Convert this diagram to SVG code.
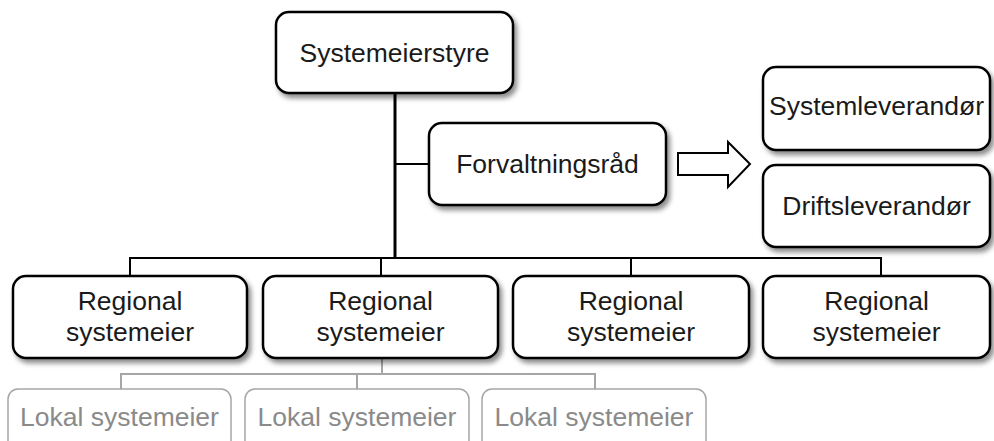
<svg xmlns="http://www.w3.org/2000/svg" width="994" height="441" viewBox="0 0 994 441">
<defs>
<filter id="sh" x="-10%" y="-10%" width="130%" height="140%">
<feDropShadow dx="3" dy="4" stdDeviation="2.5" flood-color="#000" flood-opacity="0.45"/>
</filter>
<style>
.box{fill:#fff;stroke:#000;stroke-width:2.5;filter:url(#sh)}
.gbox{fill:#fff;stroke:#a6a6a6;stroke-width:1.5}
.t{font-family:"Liberation Sans",Arial,sans-serif;font-size:26.5px;fill:#1a1a1a;text-anchor:middle}
.gt{font-family:"Liberation Sans",Arial,sans-serif;font-size:26.5px;fill:#8a8a8a;text-anchor:middle}
.ln{stroke:#000;fill:none}
.gl{stroke:#a6a6a6;fill:none;stroke-width:2}
</style>
</defs>
<rect width="994" height="441" fill="#fff"/>
<g id="connectors">
<line class="ln" x1="395" y1="93" x2="395" y2="258" stroke-width="3"/>
<line class="ln" x1="395" y1="164" x2="429" y2="164" stroke-width="2"/>
<polyline class="ln" points="130,276 130,258 881,258 881,276" stroke-width="2"/>
<line class="ln" x1="381" y1="258" x2="381" y2="276" stroke-width="2"/>
<line class="ln" x1="631" y1="258" x2="631" y2="276" stroke-width="2"/>
<line class="gl" x1="382" y1="358" x2="382" y2="374"/>
<polyline class="gl" points="121,389 121,374 595,374 595,389"/>
<line class="gl" x1="357" y1="374" x2="357" y2="389"/>
</g>
<g id="arrow">
<polygon points="678,153 728,153 728,142 750,164 728,187 728,175 678,175" fill="#fff" stroke="#000" stroke-width="2"/>
</g>
<g id="systemeierstyre">
<rect class="box" x="276" y="12" width="237" height="81" rx="13"/>
<text class="t" x="394.5" y="62">Systemeierstyre</text>
</g>
<g id="forvaltningsrad">
<rect class="box" x="429" y="123" width="237" height="82" rx="13"/>
<text class="t" x="547.5" y="173">Forvaltningsråd</text>
</g>
<g id="systemleverandor">
<rect class="box" x="763" y="67" width="227" height="83" rx="13"/>
<text class="t" x="876.5" y="115">Systemleverandør</text>
</g>
<g id="driftsleverandor">
<rect class="box" x="763" y="165" width="227" height="82" rx="13"/>
<text class="t" x="876.5" y="215">Driftsleverandør</text>
</g>
<g id="regional1">
<rect class="box" x="13" y="276" width="234" height="82" rx="13"/>
<text class="t" x="130" y="310">Regional</text>
<text class="t" x="130" y="341">systemeier</text>
</g>
<g id="regional2">
<rect class="box" x="263" y="276" width="235" height="82" rx="13"/>
<text class="t" x="380.5" y="310">Regional</text>
<text class="t" x="380.5" y="341">systemeier</text>
</g>
<g id="regional3">
<rect class="box" x="513" y="276" width="236" height="82" rx="13"/>
<text class="t" x="631" y="310">Regional</text>
<text class="t" x="631" y="341">systemeier</text>
</g>
<g id="regional4">
<rect class="box" x="763" y="276" width="227" height="82" rx="13"/>
<text class="t" x="876.5" y="310">Regional</text>
<text class="t" x="876.5" y="341">systemeier</text>
</g>
<g id="lokal1">
<rect class="gbox" x="8" y="389" width="223" height="62" rx="10"/>
<text class="gt" x="119.5" y="426">Lokal systemeier</text>
</g>
<g id="lokal2">
<rect class="gbox" x="245" y="389" width="224" height="62" rx="10"/>
<text class="gt" x="357" y="426">Lokal systemeier</text>
</g>
<g id="lokal3">
<rect class="gbox" x="482" y="389" width="224" height="62" rx="10"/>
<text class="gt" x="594" y="426">Lokal systemeier</text>
</g>
</svg>
